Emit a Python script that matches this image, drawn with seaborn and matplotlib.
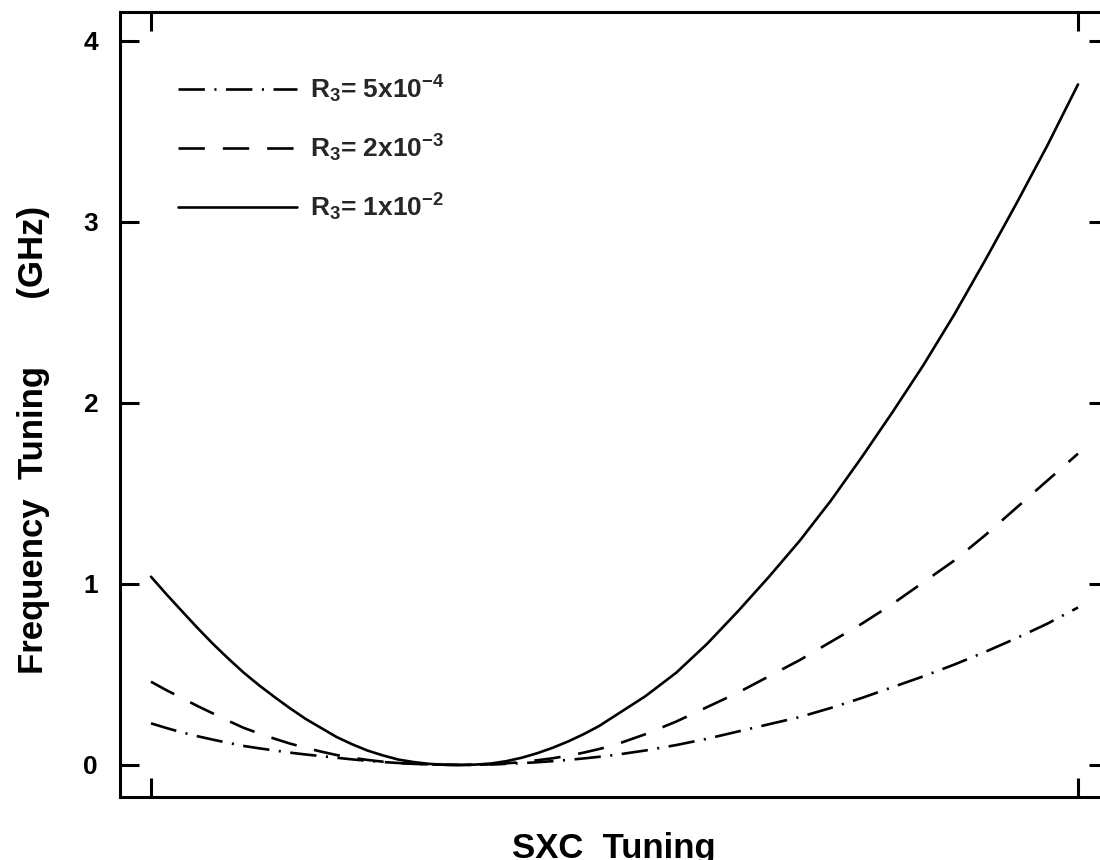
import numpy as np
import pandas as pd
import matplotlib
matplotlib.use("Agg")
import matplotlib.pyplot as plt
import seaborn as sns

# SXC tuning (arbitrary units) and frequency tuning (GHz) for three R3 values
sxc = [-1.0, -0.95, -0.9, -0.85, -0.8, -0.75, -0.7, -0.65, -0.6, -0.55,
       -0.5, -0.45, -0.4, -0.35, -0.3, -0.25, -0.2, -0.15, -0.1, -0.05,
       0.0, 0.05, 0.1, 0.15, 0.2, 0.25, 0.3, 0.35, 0.4, 0.45,
       0.5, 0.6, 0.7, 0.8, 0.9, 1.0, 1.1, 1.2, 1.3, 1.4,
       1.5, 1.6, 1.7, 1.8, 1.9, 2.0]

freq_r3_5e4 = [0.23, 0.204, 0.18, 0.159, 0.14, 0.122, 0.105, 0.092, 0.08, 0.068,
               0.058, 0.049, 0.04, 0.031, 0.023, 0.016, 0.011, 0.006, 0.003, 0.001,
               0.0, 0.001, 0.003, 0.006, 0.01, 0.015, 0.021, 0.028, 0.036, 0.045,
               0.055, 0.08, 0.11, 0.145, 0.185, 0.225, 0.265, 0.315, 0.37, 0.43,
               0.49, 0.555, 0.625, 0.70, 0.78, 0.87]

freq_r3_2e3 = [0.46, 0.413, 0.37, 0.326, 0.285, 0.244, 0.205, 0.174, 0.145, 0.118,
               0.095, 0.074, 0.055, 0.04, 0.028, 0.018, 0.011, 0.006, 0.003, 0.001,
               0.0, 0.001, 0.004, 0.009, 0.016, 0.026, 0.037, 0.051, 0.068, 0.088,
               0.11, 0.17, 0.24, 0.32, 0.40, 0.49, 0.58, 0.68, 0.78, 0.89,
               1.01, 1.13, 1.27, 1.42, 1.57, 1.72]

freq_r3_1e2 = [1.04, 0.943, 0.85, 0.758, 0.67, 0.588, 0.51, 0.44, 0.375, 0.313,
               0.255, 0.205, 0.155, 0.115, 0.08, 0.053, 0.03, 0.016, 0.006, 0.0015,
               0.0, 0.002, 0.008, 0.021, 0.04, 0.065, 0.095, 0.13, 0.17, 0.215,
               0.27, 0.38, 0.51, 0.67, 0.85, 1.04, 1.24, 1.46, 1.70, 1.95,
               2.21, 2.49, 2.79, 3.10, 3.42, 3.76]

series_labels = [r"$R_3$= 5x10$^{-4}$",
                 r"$R_3$= 2x10$^{-3}$",
                 r"$R_3$= 1x10$^{-2}$"]
y_ticks = [0, 1, 2, 3, 4]
x_ticks = [-1.0, 2.0]

sns.set_theme(style="white")
plt.rcParams["font.family"] = ["Liberation Sans", "DejaVu Sans"]
plt.rcParams["font.weight"] = "bold"
plt.rcParams["mathtext.fontset"] = "custom"
plt.rcParams["mathtext.rm"] = "Liberation Sans:bold"
plt.rcParams["mathtext.it"] = "Liberation Sans:bold"
plt.rcParams["mathtext.bf"] = "Liberation Sans:bold"
plt.rcParams["mathtext.default"] = "rm"

fig = plt.figure(figsize=(11, 8.6), dpi=100)
ax = fig.add_axes([120 / 1100, 63 / 860, 988 / 1100, 785 / 860])

line_styles = [
    (0, (10, 3.6, 0.8, 3.6)),   # dash-dot
    (0, (10, 6.8)),             # dashed
    "-",                        # solid
]
all_series = [freq_r3_5e4, freq_r3_2e3, freq_r3_1e2]

for vals, lab, ls in zip(all_series, series_labels, line_styles):
    df = pd.DataFrame({"sxc": sxc, "freq": vals})
    sns.lineplot(data=df, x="sxc", y="freq", ax=ax, color="black",
                 linewidth=1.9, linestyle=ls, label=lab, legend=False)

ax.set_xlim(-1.1003, 2.097)
ax.set_ylim(-0.177, 4.16)

ax.set_xticks(x_ticks)
ax.set_xticklabels([])
ax.set_yticks(y_ticks)
ax.set_yticklabels([str(t) for t in y_ticks])

ax.tick_params(axis="both", which="major", direction="in", length=14,
               width=2.2, color="black")
ax.tick_params(axis="x", top=True, bottom=True)
ax.tick_params(axis="y", left=True, right=True, labelsize=19, pad=16,
               labelcolor="black")
for t in ax.get_yticklabels():
    t.set_fontweight("bold")

for sp in ax.spines.values():
    sp.set_visible(True)
    sp.set_linewidth(2.2)
    sp.set_color("black")

ax.set_xlabel("SXC  Tuning", fontsize=25, fontweight="bold", color="black")
ax.xaxis.set_label_coords(0.5, -0.045)
ax.xaxis.label.set_va("top")

ax.set_ylabel("Frequency  Tuning       (GHz)", fontsize=25, fontweight="bold",
              color="black")
ax.yaxis.set_label_coords(-0.071, 0.455)

leg = ax.legend(loc="upper left", bbox_to_anchor=(0.048, 0.935), frameon=False,
                prop={"size": 19, "weight": "bold"}, handlelength=4.5,
                handletextpad=0.5, labelspacing=1.05, borderaxespad=0.0)
for h in leg.get_lines():
    h.set_linewidth(1.9)

fig.savefig("out.png", dpi=100, facecolor="white")
